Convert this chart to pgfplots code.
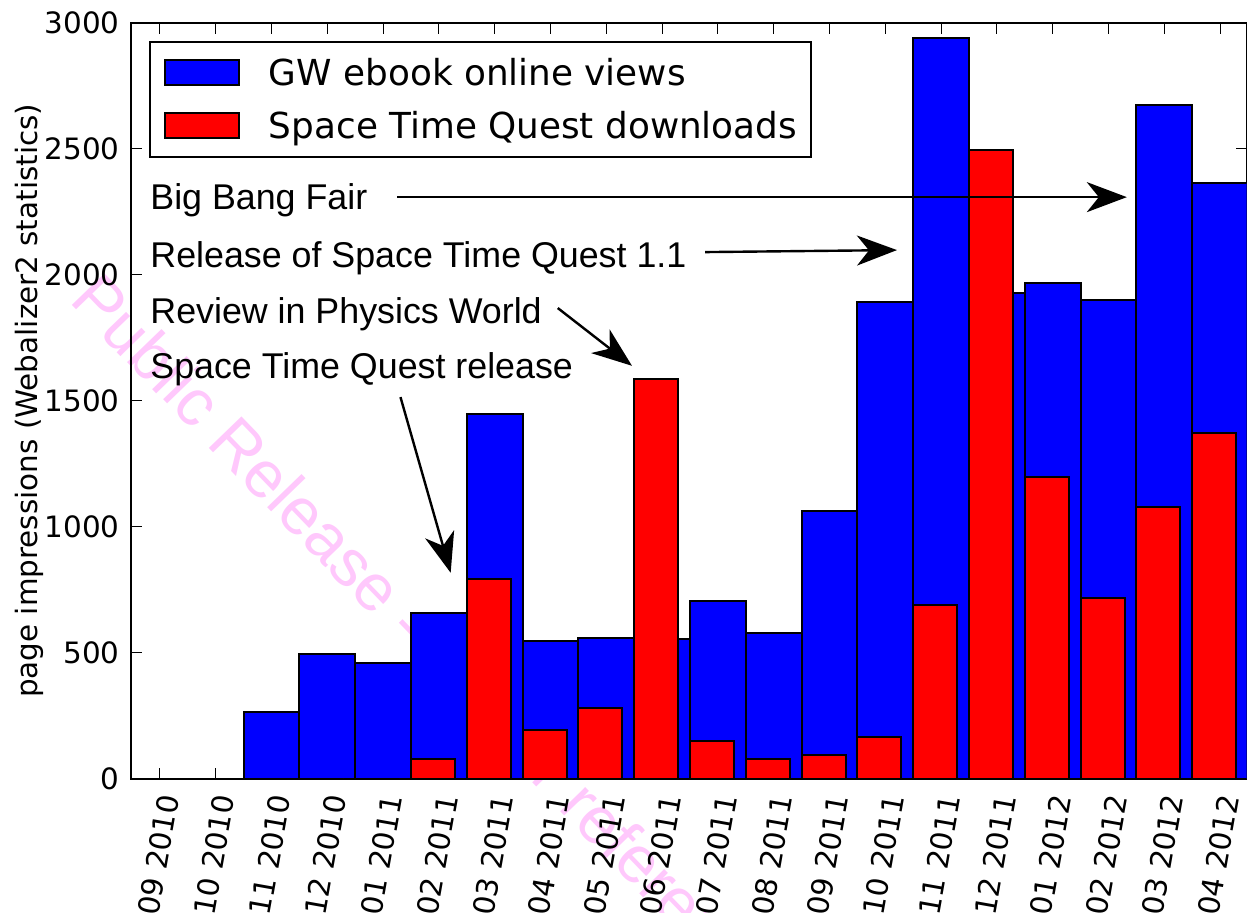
\documentclass[border=0pt]{standalone}
\usepackage{fontspec}
\setmainfont{DejaVu Sans}
\newfontfamily\arialfont{Liberation Sans}
\usepackage{pgfplots}
\pgfplotsset{compat=1.18}
\usetikzlibrary{arrows.meta}
\definecolor{wmpink}{RGB}{255,200,252}
\begin{document}
\begin{tikzpicture}
% watermark (background)
\node[anchor=west, rotate=-46, inner sep=0pt, text=wmpink, font=\arialfont\fontsize{33pt}{35pt}\selectfont] at (-23pt,247pt) {Public Release - not for reference};
\begin{axis}[
  scale only axis,
  width=557.75pt, height=378.15pt,
  xmin=-0.5198, xmax=19.475,
  ymin=0, ymax=3000,
  ybar,
  xtick={0,...,19},
  xticklabels={09 2010,10 2010,11 2010,12 2010,01 2011,02 2011,03 2011,04 2011,05 2011,06 2011,07 2011,08 2011,09 2011,10 2011,11 2011,12 2011,01 2012,02 2012,03 2012,04 2012},
  ytick={0,500,...,3000},
  tick align=inside,
  major tick length=5.5pt,
  tick style={black, line width=0.5pt},
  axis line style={black, line width=0.9pt},
  /pgf/number format/assume math mode=true,
  /pgf/number format/1000 sep={},
  tick label style={font=\fontsize{14.7pt}{16pt}\selectfont},
  yticklabel style={inner sep=0pt, xshift=-5.5pt},
  xticklabel style={inner sep=0pt, xshift=4.5pt, yshift=-8pt, rotate=80, anchor=east},
  ylabel={page impressions (Webalizer2 statistics)},
  every axis y label/.style={at={(axis description cs:0,0.5)}, xshift=-51pt, rotate=90, anchor=center, font=\fontsize{14.7pt}{16pt}\selectfont},
  legend image code/.code={\draw[#1, line width=1pt] (0pt,-6pt) rectangle (37pt,6.7pt);},
  legend cell align=left,
  legend style={at={(0.0161,0.9758)}, anchor=north west, draw=black, fill=white, line width=1pt,
    inner xsep=7pt, inner ysep=8pt, row sep=11.5pt,
    nodes={inner sep=0pt},
    font=\fontsize{17.9pt}{20pt}\selectfont},
  /tikz/every odd column/.append style={column sep=14.5pt},
]
\addplot[fill=blue, draw=black, line width=1pt, bar width=1, bar shift=0] coordinates {
(0,0) (1,0) (2,267) (3,495) (4,460) (5,659) (6,1448) (7,547) (8,560) (9,557)
(10,707) (11,578) (12,1063) (13,1891) (14,2941) (15,1926) (16,1968) (17,1899) (18,2672) (19,2364)
};
\addlegendentry{GW ebook online views}
\addplot[fill=red, draw=black, line width=1pt, bar width=0.79, bar shift=-0.105] coordinates {
(0,0) (1,0) (2,0) (3,0) (4,0) (5,78) (6,793) (7,193) (8,283) (9,1586)
(10,152) (11,78) (12,95) (13,167) (14,690) (15,2493) (16,1197) (17,718) (18,1078) (19,1372)
};
\addlegendentry{Space Time Quest downloads}
% annotations
\begin{scope}[font=\arialfont\fontsize{17.9pt}{20pt}\selectfont]
\node[anchor=base west, inner sep=0pt] at (axis cs:-0.179,2259) {Big Bang Fair};
\node[anchor=base west, inner sep=0pt] at (axis cs:-0.179,2030) {Release of Space Time Quest 1.1};
\node[anchor=base west, inner sep=0pt] at (axis cs:-0.179,1807) {Review in Physics World};
\node[anchor=base west, inner sep=0pt] at (axis cs:-0.179,1588) {Space Time Quest release};
\end{scope}
\begin{scope}[line width=1.2pt, -{Stealth[length=20pt,width=15pt,inset=6pt]}]
\draw (axis cs:4.25,2308) -- (axis cs:17.33,2308);
\draw (axis cs:9.77,2090) -- (axis cs:13.21,2098);
\draw (axis cs:7.13,1868) -- (axis cs:8.46,1639);
\draw (axis cs:4.31,1515) -- (axis cs:5.21,818);
\end{scope}
\end{axis}
\pgfresetboundingbox
\useasboundingbox (-65.5pt,-67pt) rectangle (558.5pt,389.5pt);
\end{tikzpicture}
\end{document}
